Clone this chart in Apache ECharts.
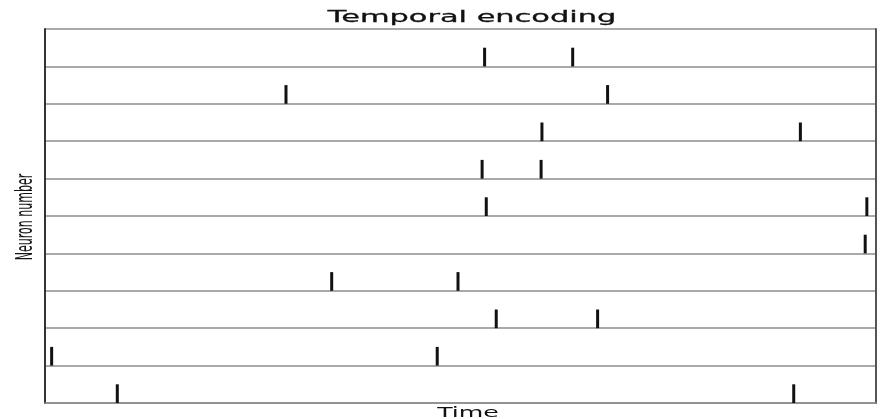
<!DOCTYPE html>
<html>
<head>
<meta charset="utf-8">
<script src="https://cdn.jsdelivr.net/npm/echarts@6/dist/echarts.min.js"></script>
<style>
  html, body { margin: 0; padding: 0; background: #fff; }
  #raster { width: 893px; height: 419px; }
</style>
</head>
<body>
<div id="raster"></div>
<script>
  // neuron ids, top row first
  const neuronIds = [10, 9, 8, 7, 6, 5, 4, 3, 2, 1];
  // spike times for each neuron (same order as neuronIds)
  const spikeTimes = [
    [52.9, 63.5],
    [29.0, 67.7],
    [59.8, 90.9],
    [52.6, 59.7],
    [53.1, 98.9],
    [98.7],
    [34.5, 49.7],
    [54.3, 66.5],
    [0.8, 47.2],
    [8.7, 90.1]
  ];
  const timeRange = [0, 100];

  const spikes = [];
  neuronIds.forEach(function (n, i) {
    spikeTimes[i].forEach(function (t) {
      spikes.push([t, n]);
    });
  });

  const chart = echarts.init(document.getElementById('raster'));
  chart.setOption({
    animation: false,
    grid: { left: 45, right: 17, top: 29, bottom: 16 },
    xAxis: {
      type: 'value',
      min: timeRange[0],
      max: timeRange[1],
      axisLine: { show: true, lineStyle: { color: '#8c8c8c', width: 1.5 } },
      axisTick: { show: false },
      axisLabel: { show: false },
      splitLine: { show: false }
    },
    yAxis: [{
      type: 'value',
      min: 0,
      max: 10,
      interval: 1,
      axisLine: { show: true, lineStyle: { color: '#333', width: 2 } },
      axisTick: { show: false },
      axisLabel: { show: false },
      splitLine: { show: true, lineStyle: { color: '#8c8c8c', width: 1.5 } }
    }, {
      type: 'value',
      position: 'right',
      min: 0,
      max: 10,
      axisLine: { show: true, lineStyle: { color: '#555', width: 2 } },
      axisTick: { show: false },
      axisLabel: { show: false },
      splitLine: { show: false }
    }],
    series: [{
      type: 'custom',
      data: spikes,
      renderItem: function (params, api) {
        const t = api.value(0);
        const n = api.value(1);
        const p0 = api.coord([t, n - 1]);
        const p1 = api.coord([t, n - 0.5]);
        return {
          type: 'line',
          shape: { x1: p0[0], y1: p0[1], x2: p1[0], y2: p1[1] },
          style: { stroke: '#111', lineWidth: 3 }
        };
      }
    }],
    graphic: [{
      type: 'text',
      x: 472,
      y: 18,
      scaleX: 1.9,
      style: {
        text: 'Temporal encoding',
        font: '16px "DejaVu Sans"',
        fill: '#111',
        stroke: '#111',
        lineWidth: 0.3,
        align: 'center',
        verticalAlign: 'middle'
      }
    }, {
      type: 'text',
      x: 468,
      y: 413,
      scaleX: 1.8,
      style: {
        text: 'Time',
        font: '14px "DejaVu Sans"',
        fill: '#111',
        align: 'center',
        verticalAlign: 'middle'
      }
    }, {
      type: 'text',
      x: 26,
      y: 217,
      rotation: Math.PI / 2,
      scaleY: 2.1,
      style: {
        text: 'Neuron number',
        font: '11px "DejaVu Sans"',
        fill: '#111',
        align: 'center',
        verticalAlign: 'middle'
      }
    }]
  });
</script>
</body>
</html>
